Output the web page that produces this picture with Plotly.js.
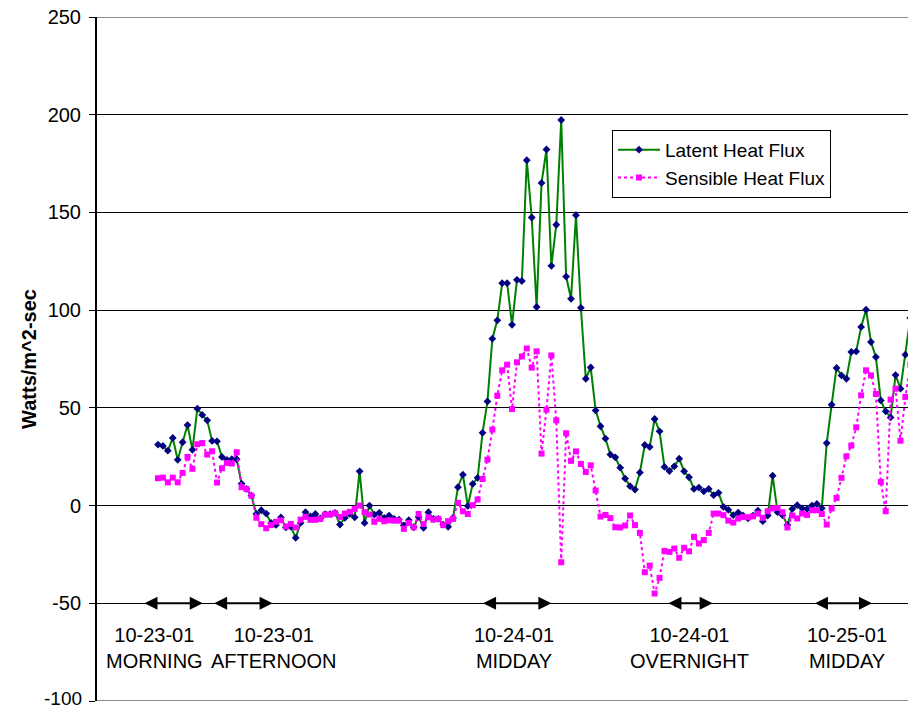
<!DOCTYPE html>
<html>
<head>
<meta charset="utf-8">
<script src="https://cdn.plot.ly/plotly-3.0.1.min.js"></script>
<style>html,body{margin:0;padding:0;background:#fff}#chart{width:908px;height:710px}</style>
</head>
<body>
<div id="chart"></div>
<script>
const latentHeatFlux = [31.2,30.5,28.1,34.6,23.4,32.4,41.2,28.5,49.6,46.4,43.6,33.1,32.9,24.9,23.4,23.7,23.7,11.2,8.5,5.1,
-4.3,-2.4,-4.1,-8.9,-9.9,-6.1,-11.2,-10.7,-16.5,-8.9,-3.4,-5.6,-4.3,-6.6,-4.4,-4.4,-3.7,-9.7,-6.3,-4.3,
-6.0,17.5,-8.9,0,-4.6,-3.7,-6.3,-5.1,-6.8,-7.2,-10.2,-7.5,-11.1,-5.8,-11.4,-3.4,-6.8,-6.8,-9.7,-10.9,
-6.3,9.4,15.8,-0.2,11.1,14.2,37.2,53.3,85.4,94.8,113.8,113.8,92.5,115.5,114.9,176.7,147.4,101.6,165.1,182.2,
122.7,143.7,197.3,117.2,105.8,148.6,101.2,64.9,70.7,48.7,40.6,34.3,26.1,24.7,19.4,13.8,9.9,8.2,16.9,31.0,
30.0,44.3,38.0,19.8,17.7,20.1,24.0,17.5,14.5,8.5,9.2,7.3,8.5,5.3,6.5,-0.7,-2.2,-4.9,-3.6,-5.1,
-6.5,-5.1,-2.6,-8.0,-5.1,15.3,-3.4,-4.9,-9.9,-1.7,0.2,-1.4,-1.7,0,0.8,-1.4,32.0,51.6,70.4,66.6,
64.9,78.6,78.9,91.4,100.2,83.7,76.0,53.8,48.2,45.1,66.8,59.8,77.2,96];

const sensibleHeatFlux = [14.0,14.3,11.9,14.3,11.9,16.7,24.9,18.8,31.4,32.0,26.1,27.8,11.8,19.1,21.8,21.5,27.3,9.4,8.5,5.0,
-6.2,-9.5,-11.6,-10.0,-8.3,-7.5,-10.7,-9.4,-11.2,-7.2,-5.8,-7.3,-7.3,-6.8,-4.6,-4.6,-3.9,-5.8,-4.1,-3.2,
-1.7,0,-3.4,-4.6,-8.3,-6.8,-8.0,-7.5,-7.7,-7.7,-11.9,-8.9,-11.1,-4.3,-9.4,-6.0,-7.2,-6.8,-10.0,-8.0,
-6.8,1.4,-2.9,-4.3,0.2,3.1,13.6,23.5,38.9,56.2,69.2,72.1,49.4,73.3,76.3,80.4,70.6,78.9,26.6,49.1,
76.8,43.6,-29.0,37.0,22.9,27.7,21.3,17.2,20.6,7.7,-5.6,-4.8,-6.4,-11.1,-11.2,-10.2,-5.1,-10.0,-14.0,-34.1,
-30.7,-45.0,-37.0,-23.2,-23.7,-22.0,-26.7,-21.6,-23.4,-16.0,-19.4,-17.7,-14.0,-4.1,-4.1,-4.9,-7.7,-8.7,-6.6,-5.8,
-6.0,-5.5,-4.1,-6.3,-2.9,-1.5,-1.2,-3.4,-11.2,-5.1,-6.6,-4.1,-4.8,-2.4,-2.4,-4.3,-9.7,-1.5,3.9,14.2,
25.2,30.7,40.0,56.4,69.2,66.6,57.1,12.1,-2.9,54.2,59.8,33.2,55.6,72];

const sampleIndex = latentHeatFlux.map((_, i) => i + 1);

const yMin = -100, yMax = 250;
const yTickValues = [-100, -50, 0, 50, 100, 150, 200, 250];
const yTickLabels = ['-100', '-50', '0', '50', '100', '150', '200', '250'];

// Observation periods (in sample-index units) and their labels
const periodStart = [-2.05, 12.1, 66.8, 104.5, 134.3];
const periodEnd   = [10.1, 24.3, 81.0, 113.8, 146.2];
const periodLabelPos = [0.2, 24.6, 73.4, 109.0, 141.1];
const periodDate  = ['10-23-01', '10-23-01', '10-24-01', '10-24-01', '10-25-01'];
const periodName  = ['MORNING', 'AFTERNOON', 'MIDDAY', 'OVERNIGHT', 'MIDDAY'];
const periodArrowLevel = -50;
const periodLabelLevel = -73;

const FONT = 'Liberation Sans, Arial, sans-serif';

const traces = [
  {
    x: sampleIndex, y: latentHeatFlux, type: 'scatter', mode: 'lines+markers',
    name: 'Latent Heat Flux',
    line: {color: '#008000', width: 2},
    marker: {color: '#000080', symbol: 'diamond', size: 6, line: {width: 0}},
    cliponaxis: true
  },
  {
    x: sampleIndex, y: sensibleHeatFlux, type: 'scatter', mode: 'lines+markers',
    name: 'Sensible Heat Flux',
    line: {color: '#FF00FF', width: 2, dash: '3px,3px'},
    marker: {color: '#FF00FF', symbol: 'square', size: 6, line: {width: 0}},
    cliponaxis: true
  }
];

const annotations = [];
for (let i = 0; i < periodStart.length; i++) {
  annotations.push({
    x: periodEnd[i], y: periodArrowLevel, ax: periodStart[i], ay: periodArrowLevel,
    xref: 'x', yref: 'y', axref: 'x', ayref: 'y',
    showarrow: true, arrowside: 'end+start', arrowhead: 2, arrowsize: 1.3, arrowwidth: 2,
    arrowcolor: '#000', text: '', standoff: 0, startstandoff: 0
  });
  annotations.push({
    x: periodLabelPos[i], y: periodLabelLevel, xref: 'x', yref: 'y',
    text: periodDate[i] + '<br>' + periodName[i], showarrow: false,
    font: {family: FONT, size: 20, color: '#000'}, align: 'center'
  });
}
// bottom-edge tick label (drawn as annotation so it is not dropped at the edge)
annotations.push({
  x: 0, xref: 'paper', y: yMin, yref: 'y', xanchor: 'right', yanchor: 'bottom',
  xshift: -14, yshift: -9, borderpad: 0, text: yTickLabels[0], showarrow: false,
  font: {family: FONT, size: 19, color: '#000'}
});

const shapes = [yMin, yMax].map(v => ({
  type: 'line', xref: 'paper', x0: 0, x1: 1, yref: 'y', y0: v, y1: v,
  line: {color: '#666', width: 1.5}
}));

const layout = {
  width: 908, height: 710,
  margin: {l: 97, r: 0, t: 17, b: 9},
  paper_bgcolor: '#fff', plot_bgcolor: '#fff',
  font: {family: FONT, color: '#000'},
  showlegend: true,
  legend: {
    x: 0.635, y: 0.835, xanchor: 'left', yanchor: 'top',
    bordercolor: '#000', borderwidth: 1, bgcolor: '#fff',
    font: {family: FONT, size: 19, color: '#000'},
    itemwidth: 42,
    tracegroupgap: 0
  },
  xaxis: {
    range: [-11.41, 153.53], showgrid: false, zeroline: false,
    showticklabels: false, ticks: '', showline: false
  },
  yaxis: {
    range: [yMin, yMax], tickvals: yTickValues, ticktext: yTickLabels.map((t, i) => i === 0 ? '' : t),
    showgrid: true, gridcolor: '#000', gridwidth: 1, zeroline: false,
    showline: true, linecolor: '#000', linewidth: 2,
    ticks: 'outside', ticklen: 6, tickcolor: '#000', tickwidth: 1,
    ticklabelstandoff: 4,
    tickfont: {family: FONT, size: 20, color: '#000'},
    title: {text: '<b>Watts/m^2-sec</b>', font: {family: FONT, size: 20, color: '#000'}, standoff: 6}
  },
  shapes: shapes,
  annotations: annotations
};

Plotly.newPlot('chart', traces, layout, {staticPlot: true, displayModeBar: false});
</script>
</body>
</html>
